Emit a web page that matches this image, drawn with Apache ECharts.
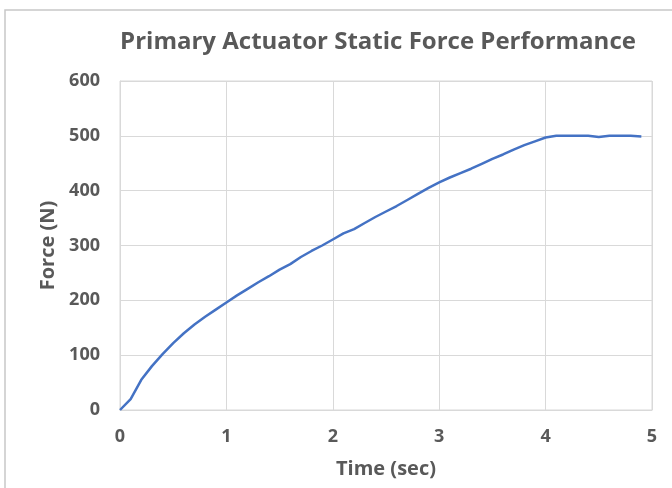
<!DOCTYPE html>
<html>
<head>
<meta charset="utf-8">
<script src="https://cdn.jsdelivr.net/npm/echarts@6/dist/echarts.min.js"></script>
<style>html,body{margin:0;padding:0;background:#fff}#c{width:672px;height:488px}</style>
</head>
<body>
<div id="c"></div>
<script>
var titleText = 'Primary Actuator Static Force Performance';
var xName = 'Time (sec)';
var yName = 'Force (N)';
var timeSec = [0,0.1,0.2,0.3,0.4,0.5,0.6,0.7,0.8,0.9,1.0,1.1,1.2,1.3,1.4,1.5,1.6,1.7,1.8,1.9,2.0,2.1,2.2,2.3,2.4,2.5,2.6,2.7,2.8,2.9,3.0,3.1,3.2,3.3,3.4,3.5,3.6,3.7,3.8,3.9,4.0,4.1,4.2,4.3,4.4,4.5,4.6,4.7,4.8,4.9];
var forceN = [0,20,55,80,102,122,140,156,170,183,196,209,221,233,244,256,266,279,290,300,311,322,330,341,352,362,372,383,394,405,415,424,432,440,449,458,466,475,483,490,497,500,500,500,500,498,500,500,500,499];

var font = '"Open Sans", sans-serif';
var txt = '#595959';
var data = timeSec.map(function(t,i){return [t, forceN[i]];});
var chart = echarts.init(document.getElementById('c'), null, {renderer:'canvas'});
chart.setOption({
  animation:false,
  backgroundColor:'#fff',
  graphic:[
    {type:'rect', shape:{x:5,y:10,width:700,height:500}, style:{fill:'none', stroke:'#c8c8c8', lineWidth:1.5}, silent:true},
    {type:'text', x:378, y:42, style:{text:titleText, font:'bold 24px '+font, fill:txt, textAlign:'center', textVerticalAlign:'middle'}}
  ],
  grid:{left:120, right:20, top:81, bottom:78, show:true, borderColor:'#d9d9d9', borderWidth:1},
  xAxis:{type:'value', min:0, max:5, interval:1, name:xName, nameLocation:'middle', nameGap:49,
    nameTextStyle:{fontFamily:font, fontWeight:'bold', fontSize:20, color:txt},
    axisLine:{show:true, lineStyle:{color:'#d9d9d9'}}, axisTick:{show:false},
    axisLabel:{fontFamily:font, fontWeight:'bold', fontSize:18, color:txt, margin:18},
    splitLine:{show:true, lineStyle:{color:'#d9d9d9', width:1}}},
  yAxis:{type:'value', min:0, max:600, interval:100, name:yName, nameLocation:'middle', nameGap:60,
    nameTextStyle:{fontFamily:font, fontWeight:'bold', fontSize:20, color:txt},
    axisLine:{show:true, lineStyle:{color:'#d9d9d9'}}, axisTick:{show:false},
    axisLabel:{fontFamily:font, fontWeight:'bold', fontSize:18, color:txt, margin:20},
    splitLine:{show:true, lineStyle:{color:'#d9d9d9', width:1}}},
  series:[{type:'line', data:data, showSymbol:false, symbol:'none', smooth:false,
    lineStyle:{color:'#4472C4', width:2.5}}]
});
</script>
</body>
</html>
